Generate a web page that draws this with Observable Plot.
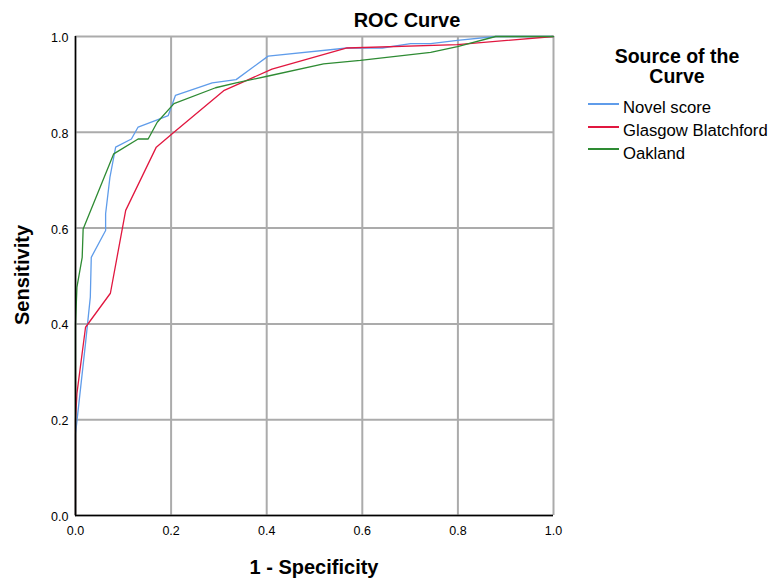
<!DOCTYPE html>
<html>
<head>
<meta charset="utf-8">
<script src="https://cdn.jsdelivr.net/npm/d3@7"></script>
<script src="https://cdn.jsdelivr.net/npm/@observablehq/plot@0.6"></script>
<style>
  html, body { margin: 0; padding: 0; background: #fff; }
  body { font-family: "Liberation Sans", Arial, sans-serif; }
  #wrap { position: relative; width: 773px; height: 578px; }
  .ov { position: absolute; color: #000; white-space: nowrap; line-height: 20px; }
  .title { font-weight: bold; font-size: 20px; left: 307px; width: 200px; text-align: center; top: 10px; }
  .xlab { font-weight: bold; font-size: 20px; left: 75px; width: 478px; text-align: center; top: 557px; }
  .ylab { font-weight: bold; font-size: 20px; left: 22px; top: 275px; transform: translate(-50%, -50%) rotate(-90deg); }
  .legt { font-weight: bold; font-size: 19.5px; left: 577px; width: 200px; text-align: center; top: 46px; }
  .legi { font-size: 16.7px; left: 623px; }
  .legl { position: absolute; left: 588px; width: 31px; height: 2px; }
</style>
</head>
<body>
<div id="wrap"></div>
<script>
const seriesNames = ["Novel score", "Glasgow Blatchford", "Oakland"];
const seriesColors = ["#5f9cea", "#e1173f", "#2e8b33"];

const novelX = [0, 0, 0.021, 0.031, 0.033, 0.063, 0.063, 0.072, 0.084, 0.117, 0.131, 0.171, 0.194, 0.209, 0.286, 0.336, 0.403, 0.568, 0.642, 0.701, 0.743, 0.799, 0.879, 1];
const novelY = [0, 0.17, 0.36, 0.456, 0.539, 0.595, 0.63, 0.706, 0.769, 0.786, 0.811, 0.826, 0.835, 0.877, 0.903, 0.910, 0.959, 0.976, 0.976, 0.985, 0.985, 0.992, 1, 1];

const gbsX = [0, 0, 0.003, 0.021, 0.073, 0.105, 0.169, 0.206, 0.310, 0.411, 0.568, 0.799, 1];
const gbsY = [0, 0.2, 0.255, 0.393, 0.464, 0.637, 0.769, 0.800, 0.887, 0.932, 0.976, 0.983, 1];

const oakX = [0, 0, 0.003, 0.014, 0.016, 0.080, 0.131, 0.152, 0.171, 0.206, 0.293, 0.336, 0.401, 0.519, 0.596, 0.743, 0.799, 0.879, 1];
const oakY = [0, 0.4, 0.477, 0.539, 0.598, 0.755, 0.786, 0.786, 0.821, 0.860, 0.893, 0.903, 0.917, 0.943, 0.950, 0.967, 0.979, 1, 1];

const tickValues = [0, 0.2, 0.4, 0.6, 0.8, 1.0];
const tickLabels = ["0.0", "0.2", "0.4", "0.6", "0.8", "1.0"];

const rows = [];
[[novelX, novelY], [gbsX, gbsY], [oakX, oakY]].forEach(([xs, ys], i) => {
  xs.forEach((x, j) => rows.push({series: seriesNames[i], x, y: ys[j]}));
});

const chart = Plot.plot({
  width: 773,
  height: 578,
  marginLeft: 75,
  marginRight: 220,
  marginTop: 36,
  marginBottom: 63,
  style: { fontFamily: "Liberation Sans, Arial, sans-serif", fontSize: "12px", color: "#000", background: "#fff" },
  x: { domain: [0, 1], label: null },
  y: { domain: [0, 1], label: null },
  color: { domain: seriesNames, range: seriesColors },
  marks: [
    Plot.gridX(tickValues, { stroke: "#ababab", strokeOpacity: 1, strokeWidth: 2 }),
    Plot.gridY(tickValues, { stroke: "#ababab", strokeOpacity: 1, strokeWidth: 2 }),
    Plot.axisX(tickValues, { tickSize: 0, tickPadding: 11, tickFormat: (d, i) => tickLabels[i], fontSize: 12.5, label: null }),
    Plot.axisY(tickValues, { tickSize: 0, tickPadding: 7, dy: 1.5, tickFormat: (d, i) => tickLabels[i], fontSize: 12.5, label: null }),
    Plot.line(rows, { x: "x", y: "y", z: "series", stroke: "series", strokeWidth: 1.3 }),
    Plot.ruleX([0], { stroke: "#000", strokeWidth: 1.5 }),
    Plot.ruleY([0], { stroke: "#000", strokeWidth: 1.5 })
  ]
});

const wrap = document.getElementById("wrap");
chart.style.position = "absolute";
chart.style.left = "0";
chart.style.top = "0";
wrap.appendChild(chart);

function addDiv(cls, text, extra) {
  const d = document.createElement("div");
  d.className = "ov " + cls;
  d.textContent = text;
  if (extra) Object.assign(d.style, extra);
  wrap.appendChild(d);
  return d;
}
addDiv("title", "ROC Curve");
addDiv("xlab", "1 - Specificity");
addDiv("ylab", "Sensitivity");
const lt = addDiv("legt", "");
lt.innerHTML = "Source of the<br>Curve";
const legLineY = [104, 127, 149];
const legTextTop = [98.2, 120.9, 143.6];
seriesNames.forEach((n, i) => {
  const l = document.createElement("div");
  l.className = "legl";
  l.style.top = (legLineY[i] - 1) + "px";
  l.style.background = seriesColors[i];
  wrap.appendChild(l);
  addDiv("legi", n, { top: legTextTop[i] + "px" });
});
</script>
</body>
</html>
